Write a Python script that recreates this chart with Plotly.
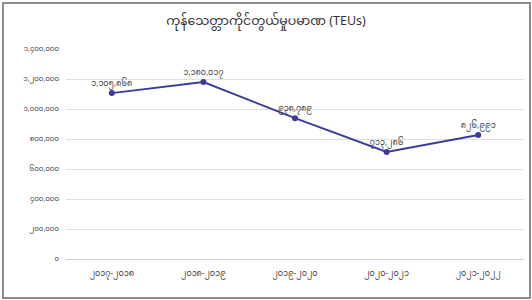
import plotly.graph_objects as go

years = ["၂၀၁၇-၂၀၁၈", "၂၀၁၈-၂၀၁၉", "၂၀၁၉-၂၀၂၀", "၂၀၂၀-၂၀၂၁", "၂၀၂၁-၂၀၂၂"]
teus = [1105868, 1180017, 938789, 713286, 826991]
y_ticks = [0, 200000, 400000, 600000, 800000, 1000000, 1200000, 1400000]
title_text = "ကုန်သေတ္တာကိုင်တွယ်မှုပမာဏ (TEUs)"

MM = str.maketrans("0123456789", "၀၁၂၃၄၅၆၇၈၉")
def mm(n):
    return f"{n:,}".translate(MM)

y_labels = [mm(v) for v in y_ticks]
point_labels = [mm(v) for v in teus]

W, H = 532, 300
ml, mr, mt, mb = 66, 8, 49, 41

font_fam = "Noto Sans Myanmar, Padauk, Myanmar Text, Noto Sans, DejaVu Sans, sans-serif"

fig = go.Figure(go.Scatter(
    x=years, y=teus, mode="lines+markers+text",
    line=dict(color="#3a3c9c", width=2),
    marker=dict(color="#3a3c9c", size=6),
    text=point_labels, textposition="top center",
    textfont=dict(size=8, color="#404040", family=font_fam),
    cliponaxis=False,
))

fig.update_layout(
    width=W, height=H,
    margin=dict(l=ml, r=mr, t=mt, b=mb),
    paper_bgcolor="white", plot_bgcolor="white",
    showlegend=False,
    font=dict(family=font_fam, color="#404040"),
    title=dict(text=title_text, x=0.5, xanchor="center", y=0.93, yanchor="middle",
               font=dict(size=12.5, color="#333333", family=font_fam)),
    xaxis=dict(type="category", range=[-0.5, 4.5], showgrid=False, showline=True,
               linecolor="#d0d0d0", ticks="", tickfont=dict(size=8, color="#404040"),
               ticklabelstandoff=6),
    yaxis=dict(range=[0, 1400000], tickvals=y_ticks, ticktext=y_labels,
               showgrid=True, gridcolor="#e0e0e0", gridwidth=1, zeroline=False,
               ticks="", tickfont=dict(size=7, color="#404040"), ticklabelstandoff=6),
)

post = (
    "document.body.style.margin='0';"
    "document.body.style.overflow='hidden';"
    "var f=document.createElement('div');"
    "f.style.cssText='position:fixed;left:2px;top:2px;width:525px;height:293px;"
    "border:2px solid #8c8c8c;pointer-events:none;z-index:9999;';"
    "document.body.appendChild(f);"
)

fig.write_html("out.html", config={"displayModeBar": False}, post_script=post)
